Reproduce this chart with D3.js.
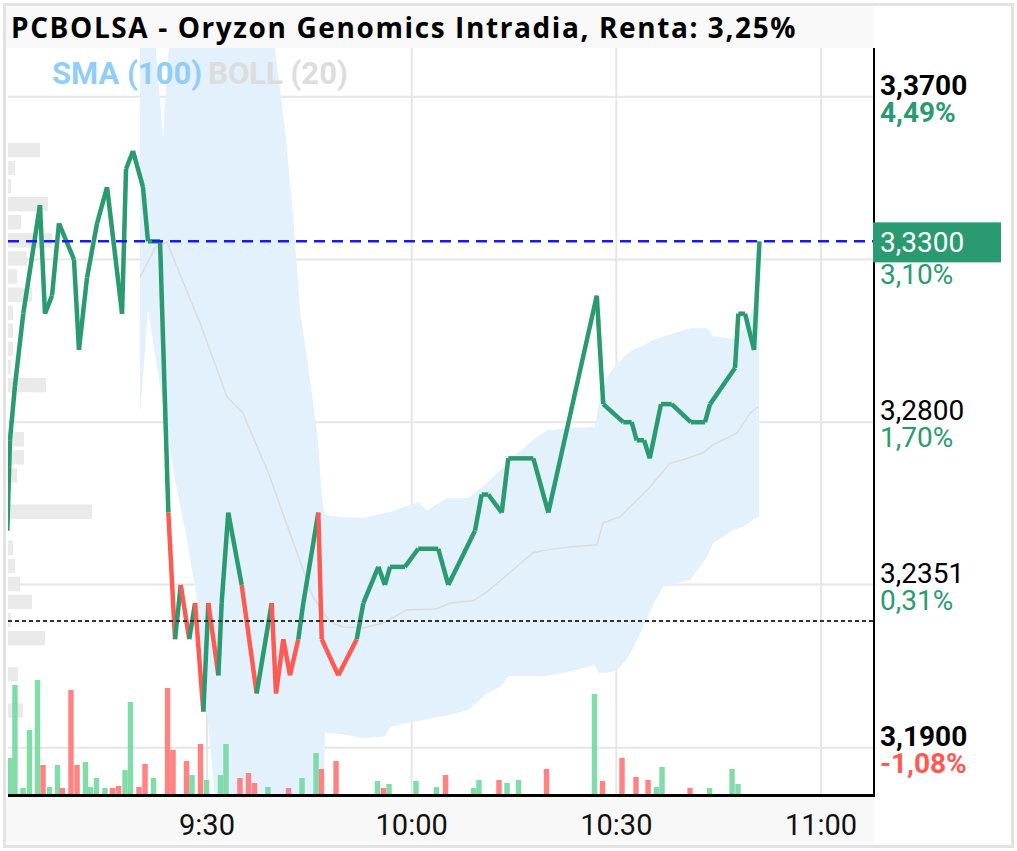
<!DOCTYPE html>
<html>
<head>
<meta charset="utf-8">
<script src="https://cdn.jsdelivr.net/npm/d3@7/dist/d3.min.js"></script>
<style>
  body { margin: 0; background: #fff; }
  svg { display: block; }
</style>
</head>
<body>
<div id="chart"></div>
<script>
// ---- data ----
const chartTitle = "PCBOLSA - Oryzon Genomics Intradia, Renta: 3,25%";
const prevClose = 3.225;
const lastPrice = 3.33;
const priceTicks = [3.37, 3.325, 3.28, 3.2351, 3.19];
const boldTicks = [3.37, 3.19];
const timeTicks = ["9:30", "10:00", "10:30", "11:00"];

// price line (time of trade, price)
const priceTimes = ["9:00:44","9:01:07","9:01:51","9:03:04","9:05:31","9:06:15","9:07:17","9:08:18","9:10:30","9:11:14",
  "9:12:25","9:13:53","9:15:21","9:17:33","9:18:08","9:19:09","9:20:37","9:21:21","9:23:07","9:24:20",
  "9:25:19","9:26:09","9:27:24","9:28:15","9:29:28","9:30:12","9:31:40","9:32:09","9:33:07","9:35:05",
  "9:37:17","9:39:29","9:40:07","9:41:11","9:42:10","9:43:23","9:44:07","9:46:19","9:46:49","9:49:15",
  "9:51:57","9:52:55","9:55:07","9:56:05","9:56:50","9:59:01","10:00:58","10:03:54","10:05:22","10:09:17",
  "10:10:16","10:11:14","10:13:12","10:14:10","10:17:50","10:20:02","10:27:08","10:28:05","10:31:01","10:32:15",
  "10:32:59","10:34:04","10:34:54","10:36:33","10:38:07","10:40:55","10:43:00","10:43:44","10:47:24","10:47:53",
  "10:48:52","10:50:11","10:50:59"];
const prices = [3.25,3.275,3.29,3.31,3.34,3.31,3.315,3.335,3.325,3.30,
  3.32,3.335,3.345,3.31,3.35,3.355,3.345,3.33,3.33,3.255,
  3.22,3.235,3.22,3.23,3.20,3.23,3.21,3.23,3.255,3.235,
  3.205,3.23,3.205,3.22,3.21,3.22,3.23,3.255,3.22,3.21,
  3.22,3.23,3.24,3.235,3.24,3.24,3.245,3.245,3.235,3.25,
  3.26,3.26,3.255,3.27,3.27,3.255,3.315,3.285,3.28,3.28,
  3.275,3.275,3.27,3.285,3.285,3.28,3.28,3.285,3.295,3.31,
  3.31,3.30,3.33];

// BOLL (20) middle line
const midTimes = ["9:20:11","9:22:23","9:24:08","9:25:36","9:28:58","9:32:56","9:35:17","9:39:14","9:43:12","9:45:32",
  "9:48:02","9:49:56","9:52:52","9:55:48","9:59:19","10:03:43","10:05:37","10:08:59","10:11:03","10:14:52",
  "10:17:47","10:19:50","10:23:13","10:27:10","10:28:03","10:30:32","10:33:02","10:34:56","10:37:52","10:39:46",
  "10:42:42","10:44:10","10:47:41","10:49:36","10:50:46"];
const midValues = [3.3201,3.3282,3.3298,3.3229,3.3075,3.2870,3.2825,3.2648,3.2438,3.2317,
  3.2248,3.2234,3.2231,3.2245,3.2281,3.2284,3.2300,3.2306,3.2331,3.2392,
  3.2439,3.2447,3.2455,3.2461,3.2522,3.2538,3.2585,3.2621,3.2687,3.2696,
  3.2715,3.2737,3.2770,3.2825,3.2842];

// BOLL (20) band
const bandTimes = ["9:20:11","9:21:21","9:23:33","9:25:19","9:27:04","9:28:32","9:30:00","9:31:10","9:33:00","9:39:58",
  "9:41:26","9:42:37","9:43:38","9:45:06","9:46:16","9:46:52","9:47:18","9:49:30","9:53:01","9:56:05",
  "9:56:50","9:59:46","10:00:56","10:02:15","10:05:11","10:08:16","10:11:03","10:12:57","10:14:16","10:14:52",
  "10:17:47","10:19:50","10:23:22","10:26:53","10:27:19","10:28:38","10:29:57","10:31:25","10:32:27","10:33:55",
  "10:35:23","10:36:51","10:38:54","10:40:48","10:43:17","10:44:10","10:47:06","10:48:34","10:50:02","10:50:55"];
const bandUpper = [3.41,3.41,3.3586,3.41,3.41,3.41,3.41,3.41,3.41,3.3835,
  3.3608,3.3373,3.3110,3.2917,3.2751,3.2585,3.2543,3.2538,3.2535,3.2549,
  3.2552,3.2571,3.2579,3.2557,3.2590,3.2590,3.2632,3.2668,3.2690,3.2704,
  3.2751,3.2778,3.2784,3.2787,3.2842,3.2925,3.2958,3.2986,3.3000,3.3013,
  3.3027,3.3036,3.3049,3.3060,3.3060,3.3038,3.3030,3.3055,3.3116,3.3138];
const bandLower = [3.2820,3.3110,3.2850,3.2640,3.2474,3.2308,3.1996,3.1766,3.15,3.15,
  3.15,3.15,3.15,3.15,3.15,3.15,3.1941,3.1938,3.1927,3.1932,
  3.1957,3.1971,3.1974,3.1979,3.1990,3.2004,3.2051,3.2068,3.2098,3.2098,
  3.2098,3.2098,3.2112,3.2129,3.2107,3.2107,3.2112,3.2142,3.2176,3.2234,
  3.2295,3.2344,3.2355,3.2364,3.2427,3.2466,3.2502,3.2510,3.2530,3.2538];

// traded volume, bottom bars (1 = up, 0 = down)
const volTimes = ["9:01:07","9:01:51","9:03:02","9:03:59","9:05:09","9:05:58","9:06:55","9:08:05","9:08:49","9:10:04",
  "9:10:57","9:12:11","9:12:55","9:13:48","9:15:03","9:16:09","9:17:02","9:17:59","9:18:47","9:20:02",
  "9:20:55","9:22:10","9:24:13","9:25:01","9:27:00","9:27:48","9:29:03","9:29:56","9:31:59","9:32:47",
  "9:34:50","9:36:05","9:36:58","9:38:56","9:41:57","9:43:56","9:45:59","9:46:47","9:48:55","9:54:59",
  "9:55:52","9:56:41","10:00:38","10:03:38","10:04:58","10:09:04","10:09:52","10:12:48","10:13:59","10:15:40",
  "10:19:46","10:26:48","10:27:59","10:30:50","10:32:53","10:34:39","10:35:53","10:36:42","10:40:48","10:43:40",
  "10:46:58","10:47:50"];
const volumes = [3700,11000,700,6500,11500,3000,800,3000,700,10500,
  3000,3300,800,1700,700,700,900,2500,9300,800,
  3100,1700,10700,4500,3400,2000,5100,1500,2000,5100,
  1700,2200,1200,800,700,1700,4200,2600,3400,1400,
  700,1100,1400,800,2000,700,1500,1500,1200,1500,
  2600,10100,1400,3700,1800,1500,800,2800,700,700,
  2600,1100];
const volUp = [1,1,1,1,1,0,1,1,0,0,
  0,1,1,1,1,0,0,1,1,0,
  0,1,0,0,0,1,0,1,1,1,
  0,0,0,1,0,1,1,0,0,1,
  0,1,1,1,0,1,1,0,1,1,
  0,1,0,0,0,0,1,1,0,1,
  1,1];

// volume by price, left grey bars
const profileLevels = [3.355,3.35,3.345,3.34,3.335,3.33,3.325,3.32,3.315,3.31,3.305,3.30,3.295,3.29,
  3.275,3.27,3.265,3.255,3.245,3.24,3.235,3.23,3.225,3.22,3.21,3.20];
const profileVolumes = [32000,7000,3000,40000,13000,44000,19000,9000,24000,5000,5000,5000,3000,38000,
  16000,16000,9000,84000,5000,7000,12000,24000,3000,37000,10000,15000];

// ---- layout ----
const width = 1017, height = 851;
const plot = { left: 8, right: 874, top: 48, bottom: 795 };
const green = "#2a9b70", red = "#ff5a52";

const parseT = d3.timeParse("%H:%M:%S");
const parseHM = d3.timeParse("%H:%M");
const comma = s => s.replace(".", ",");

const svg = d3.select("#chart").append("svg")
  .attr("width", width).attr("height", height)
  .style("font-family", "Roboto, sans-serif");

// scales
const x = d3.scaleTime().domain([parseHM("9:00"), parseHM("11:00")]).range([2.33, 821]);
const y = d3.scaleLinear().domain([3.19, 3.37]).range([747.7, 96.7]);
const yVol = d3.scaleLinear().domain([0, 16000]).range([plot.bottom, plot.bottom - 160]);
const xProf = d3.scaleLinear().domain([0, 84000]).range([0, 84]);

// frame
svg.append("rect").attr("x", 4.5).attr("y", 4.5).attr("width", width - 9).attr("height", height - 9)
  .attr("fill", "#fff").attr("stroke", "#e3e3e3").attr("stroke-width", 3);
svg.append("rect").attr("x", 6).attr("y", 6).attr("width", plot.right - 6).attr("height", plot.top - 6)
  .attr("fill", "#f9f9f9");
svg.append("rect").attr("x", 6).attr("y", plot.bottom + 2).attr("width", plot.right - 6).attr("height", height - 8 - plot.bottom - 2)
  .attr("fill", "#f8f8f8");

svg.append("defs").append("clipPath").attr("id", "clip")
  .append("rect").attr("x", plot.left).attr("y", plot.top)
  .attr("width", plot.right - plot.left).attr("height", plot.bottom - plot.top);

const g = svg.append("g").attr("clip-path", "url(#clip)");

// grid
g.selectAll(".hgrid").data(priceTicks).join("line")
  .attr("x1", plot.left).attr("x2", plot.right)
  .attr("y1", d => y(d)).attr("y2", d => y(d))
  .attr("stroke", "#e6e6e6").attr("stroke-width", 2);
g.selectAll(".vgrid").data(timeTicks).join("line")
  .attr("x1", d => x(parseHM(d))).attr("x2", d => x(parseHM(d)))
  .attr("y1", plot.top).attr("y2", plot.bottom)
  .attr("stroke", "#e6e6e6").attr("stroke-width", 2);

// bollinger band
const band = bandTimes.map((t, i) => ({ t: parseT(t), hi: bandUpper[i], lo: bandLower[i] }));
g.append("path").datum(band)
  .attr("fill", "#e2f1fc")
  .attr("d", d3.area().x(d => x(d.t)).y0(d => y(d.lo)).y1(d => y(d.hi)));

// volume profile
const barH = y(3.19) - y(3.194);
g.selectAll(".prof").data(profileLevels).join("rect")
  .attr("x", plot.left)
  .attr("y", d => y(d) - barH / 2 - 1)
  .attr("width", (d, i) => xProf(profileVolumes[i]))
  .attr("height", barH)
  .attr("fill", "#e8e8e8").attr("opacity", 0.9);

// volume bars
const vol = volTimes.map((t, i) => ({ t: parseT(t), v: volumes[i], up: volUp[i] }));
const barW = x(parseT("9:00:48")) - x(parseT("9:00:00"));
g.selectAll(".vol").data(vol).join("rect")
  .attr("x", d => x(d.t) - barW / 2)
  .attr("y", d => yVol(d.v))
  .attr("width", barW)
  .attr("height", d => plot.bottom - yVol(d.v))
  .attr("fill", d => d.up ? "#74d8a0" : "#ff7676")
  .attr("opacity", 0.9);

// bollinger middle
const mid = midTimes.map((t, i) => ({ t: parseT(t), v: midValues[i] }));
g.append("path").datum(mid)
  .attr("fill", "none").attr("stroke", "#dcdcdc").attr("stroke-width", 1.5)
  .attr("d", d3.line().x(d => x(d.t)).y(d => y(d.v)));

// price line, each segment coloured by its end point vs previous close
const pts = priceTimes.map((t, i) => ({ t: parseT(t), v: prices[i] }));
const segs = d3.pairs(pts);
const line = d3.line().x(d => x(d.t)).y(d => y(d.v));
g.selectAll(".seg").data(segs).join("path")
  .attr("fill", "none")
  .attr("stroke", d => d[1].v >= prevClose ? green : red)
  .attr("stroke-width", 4.5)
  .attr("stroke-linejoin", "round")
  .attr("stroke-linecap", "butt")
  .attr("d", d => line(d));

// reference lines
g.append("line").attr("x1", plot.left).attr("x2", plot.right)
  .attr("y1", y(prevClose)).attr("y2", y(prevClose))
  .attr("stroke", "#333").attr("stroke-width", 2).attr("stroke-dasharray", "4,3");
g.append("line").attr("x1", plot.left).attr("x2", plot.right)
  .attr("y1", y(lastPrice)).attr("y2", y(lastPrice))
  .attr("stroke", "#1a1aee").attr("stroke-width", 2.5).attr("stroke-dasharray", "11,7");

// legend
const legend = svg.append("text").attr("x", 52).attr("y", 84)
  .attr("font-size", 31).attr("font-weight", "bold");
legend.append("tspan").attr("fill", "#92cdf8").text("SMA (100)");
legend.append("tspan").attr("dx", 6).attr("fill", "#dddddd").text("BOLL (20)");

// axes lines
svg.append("line").attr("x1", plot.right).attr("x2", plot.right)
  .attr("y1", plot.top).attr("y2", plot.bottom + 2)
  .attr("stroke", "#000").attr("stroke-width", 2);
svg.append("line").attr("x1", plot.left).attr("x2", plot.right + 1)
  .attr("y1", plot.bottom + 0.5).attr("y2", plot.bottom + 0.5)
  .attr("stroke", "#000").attr("stroke-width", 3);

// time labels
svg.selectAll(".tl").data(timeTicks).join("text")
  .attr("x", d => x(parseHM(d))).attr("y", 835)
  .attr("text-anchor", "middle").attr("font-size", 29).attr("fill", "#111")
  .text(d => d);

// price labels (the one under the last price box is not shown)
const fmtP = d3.format(".4f");
const pct = v => { const p = Math.trunc((v / prevClose - 1) * 10000) / 100; return comma(p.toFixed(2)) + "%"; };
priceTicks.forEach(v => {
  const yy = Math.max(y(v), 93);
  const bold = boldTicks.includes(v);
  if (Math.abs(y(v) - y(lastPrice)) > 25) {
    svg.append("text").attr("x", 880).attr("y", yy - 2)
      .attr("font-size", 28).attr("font-weight", bold ? "bold" : "normal").attr("fill", "#000")
      .text(comma(fmtP(v)));
  }
  svg.append("text").attr("x", 880).attr("y", yy + 25)
    .attr("font-size", 28).attr("font-weight", bold ? "bold" : "normal")
    .attr("fill", v >= prevClose ? green : red)
    .text(pct(v));
});

// last price box
svg.append("rect").attr("x", plot.right - 1).attr("y", y(lastPrice) - 19)
  .attr("width", 128).attr("height", 40).attr("fill", green);
svg.append("text").attr("x", 880).attr("y", y(lastPrice) + 11)
  .attr("font-size", 28).attr("fill", "#fff").text(comma(fmtP(lastPrice)));

// title
svg.append("text").attr("x", 11).attr("y", 38)
  .attr("font-family", "'Open Sans', sans-serif")
  .attr("font-size", 28).attr("font-weight", "bold").attr("letter-spacing", 1.6).attr("fill", "#000")
  .text(chartTitle);
</script>
</body>
</html>
